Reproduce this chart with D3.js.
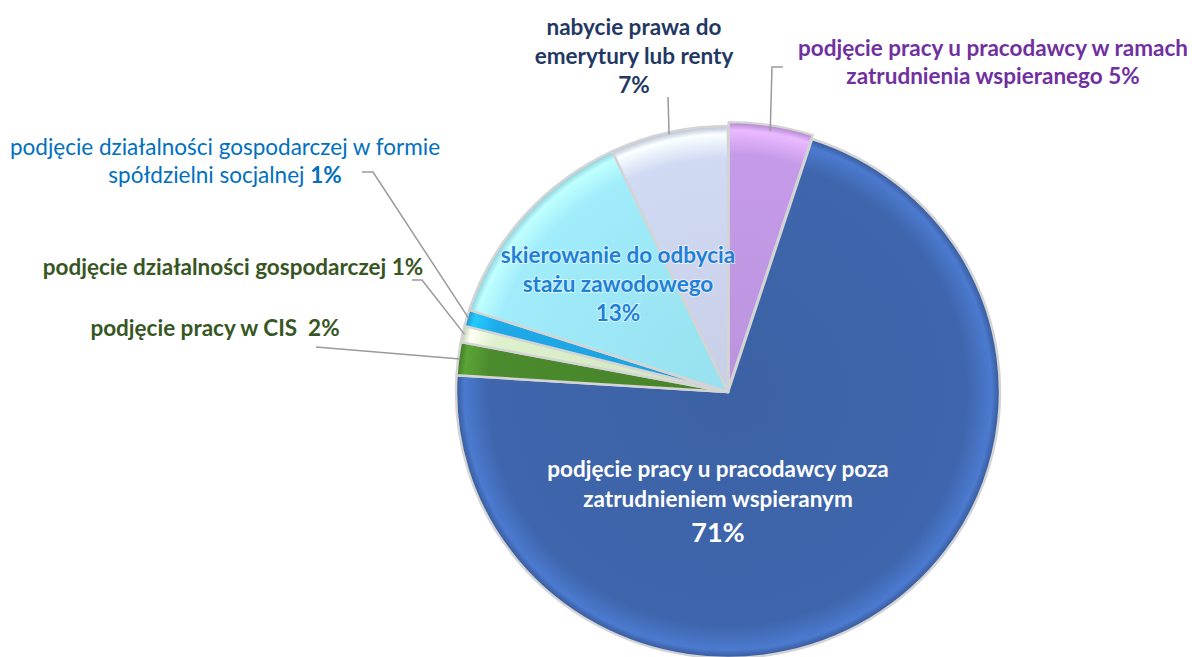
<!DOCTYPE html>
<html><head><meta charset="utf-8">
<script src="https://cdn.jsdelivr.net/npm/d3@7"></script>
<style>
html,body{margin:0;padding:0;background:#fff;}
svg text{font-family:Lato,"Open Sans",sans-serif;}
</style></head>
<body>
<svg id="chart" width="1192" height="657"></svg>
<script>
// ---- data ----
const categories = [
  "podjęcie pracy u pracodawcy w ramach zatrudnienia wspieranego",
  "podjęcie pracy u pracodawcy poza zatrudnieniem wspieranym",
  "podjęcie pracy w CIS",
  "podjęcie działalności gospodarczej",
  "podjęcie działalności gospodarczej w formie spółdzielni socjalnej",
  "skierowanie do odbycia stażu zawodowego",
  "nabycie prawa do emerytury lub renty"
];
const values = [5, 71, 2, 1, 1, 13, 7];
const percentLabels = ["5%", "71%", "2%", "1%", "1%", "13%", "7%"];
const labelLines = [
  ["podjęcie pracy u pracodawcy w ramach", "zatrudnienia wspieranego 5%"],
  ["podjęcie pracy u pracodawcy poza", "zatrudnieniem wspieranym", "71%"],
  ["podjęcie pracy w CIS\u00A0\u00A02%"],
  ["podjęcie działalności gospodarczej 1%"],
  ["podjęcie działalności gospodarczej w formie", "spółdzielni socjalnej |1%"],
  ["skierowanie do odbycia", "stażu zawodowego", "13%"],
  ["nabycie prawa do", "emerytury lub renty", "7%"]
];
const colors = ["#C59BE9", "#3F66AD", "#4B8A2D", "#DDF1CC", "#1EA9E8", "#A0ECFB", "#D1DAF3"];
const textColors = ["#7030A0", "#FFFFFF", "#375623", "#375623", "#0070C0", "#1F80D8", "#1F3864"];

// ---- layout ----
const cx = 728, cy = 392, rx = 272, ry = 266;
const labelPos = [
  {x: 993, y: 56, lh: 28, size: 22.5, bold: true},
  {x: 718, y: 477, lh: 30, size: 22.5, bold: true, lastSize: 27},
  {x: 215, y: 336, lh: 28, size: 22.5, bold: true},
  {x: 233, y: 275, lh: 28, size: 22.5, bold: true},
  {x: 225, y: 155, lh: 28, size: 22.5, bold: false},
  {x: 618, y: 263, lh: 29, size: 22.5, bold: true},
  {x: 634, y: 35, lh: 29, size: 22.5, bold: true}
];
const leaderStarts = [
  [[783, 67], [772, 67]],
  null,
  [[316, 347]],
  [[412, 280], [422, 280]],
  [[362, 172], [373, 172]],
  null,
  [[668, 97]]
];

const svg = d3.select("#chart");
const data = values.map((v, i) => ({i, v}));
const pie = d3.pie().value(d => d.v).sort(null).startAngle(0).endAngle(2 * Math.PI);
const arcs = pie(data);
const arc = d3.arc().innerRadius(0).outerRadius(rx);

const defs = svg.append("defs");
colors.forEach((c, i) => {
  const g = defs.append("radialGradient").attr("id", "g" + i)
    .attr("gradientUnits", "userSpaceOnUse").attr("cx", 0).attr("cy", 0).attr("r", rx);
  g.append("stop").attr("offset", "0%").attr("stop-color", d3.color(c).darker(0.15));
  g.append("stop").attr("offset", "88%").attr("stop-color", c);
  g.append("stop").attr("offset", "97%").attr("stop-color", d3.color(c).brighter(0.5));
  g.append("stop").attr("offset", "100%").attr("stop-color", d3.color(c).darker(0.4));
});

const pieG = svg.append("g").attr("transform", `translate(${cx},${cy}) scale(1,${ry / rx})`);
pieG.selectAll("path").data(arcs).enter().append("path")
  .attr("d", arc)
  .attr("transform", d => {
    if (d.data.i !== 0) return null;
    const a = (d.startAngle + d.endAngle) / 2;
    return `translate(${4 * Math.sin(a)},${-4 * Math.cos(a)})`;
  })
  .attr("fill", d => `url(#g${d.data.i})`)
  .attr("stroke", "#d4d4d4")
  .attr("stroke-width", 2.5)
  .attr("stroke-linejoin", "round");

// leader lines
arcs.forEach(d => {
  const s = leaderStarts[d.data.i];
  if (!s) return;
  const a = (d.startAngle + d.endAngle) / 2;
  const end = [cx + (rx - 2) * Math.sin(a), cy - (ry - 2) * Math.cos(a)];
  svg.append("path")
    .attr("d", d3.line()(s.concat([end])))
    .attr("fill", "none").attr("stroke", "#9a9a9a").attr("stroke-width", 1.5);
});

// labels
labelLines.forEach((lines, i) => {
  const p = labelPos[i];
  const t = svg.append("text").attr("text-anchor", "middle")
    .attr("fill", textColors[i])
    .style("font-size", p.size + "px")
    .style("font-weight", p.bold ? "700" : "400")
    .style("paint-order", "stroke")
    .attr("stroke", i === 1 ? "none" : "rgba(255,255,255,0.6)")
    .attr("stroke-width", 2);
  lines.forEach((ln, k) => {
    const ts = t.append("tspan").attr("x", p.x).attr("y", p.y + k * p.lh + (p.lastSize && k === lines.length - 1 ? 5 : 0));
    if (p.lastSize && k === lines.length - 1) ts.style("font-size", p.lastSize + "px");
    if (ln.includes("|")) {
      const [a, b] = ln.split("|");
      ts.text(a);
      t.append("tspan").style("font-weight", "700").text(b);
    } else ts.text(ln);
  });
});
</script>
</body></html>
